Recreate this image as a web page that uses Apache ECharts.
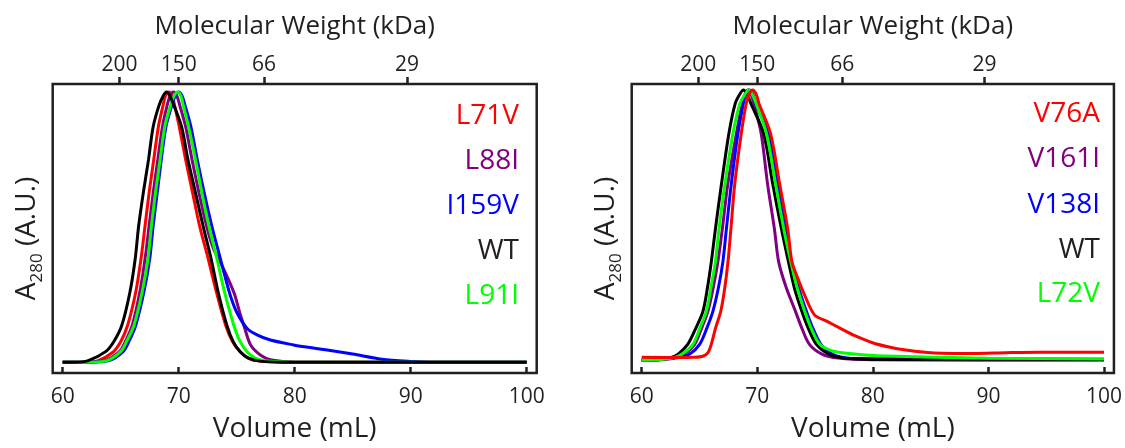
<!DOCTYPE html>
<html>
<head>
<meta charset="utf-8">
<script src="https://cdn.jsdelivr.net/npm/echarts@6/dist/echarts.min.js"></script>
<style>
    html, body {margin: 0; padding: 0; background: #fff;}
    #sec_chart {width: 1125px; height: 448px;}
</style>
</head>
<body>
<div id="sec_chart"></div>
<script>
//*************** data: [volume (mL), A280 normalised] ***************
// left panel
var left_L71V = [[60,0],[62,0],[63,0.005],[64.3,0.036],[65.0,0.076],[65.6,0.137],[66.3,0.26],[66.75,0.382],[67.1,0.505],[67.45,0.627],[67.85,0.75],[68.25,0.872],[68.65,0.95],[68.85,0.985],[69.15,1.0],[69.45,0.985],[69.65,0.95],[70.05,0.872],[70.6,0.75],[71.2,0.627],[71.8,0.505],[72.55,0.382],[73.25,0.26],[74.05,0.137],[74.65,0.076],[75.3,0.039],[76.0,0.015],[77,0.004],[79,0],[100,0]];
var left_L88I = [[60,0],[62,0],[63.6,0.006],[64.9,0.039],[65.4,0.076],[66.0,0.137],[66.65,0.26],[67.1,0.382],[67.45,0.505],[67.8,0.627],[68.2,0.75],[68.6,0.872],[69.0,0.95],[69.25,0.985],[69.55,1.0],[69.85,0.985],[70.1,0.95],[70.6,0.872],[71.15,0.75],[71.75,0.627],[72.4,0.505],[73.0,0.42],[73.7,0.36],[74.35,0.3],[74.85,0.247],[75.25,0.185],[75.7,0.125],[76.2,0.064],[77.1,0.025],[78,0.008],[80,0],[100,0]];
var left_I159V = [[60,0],[62,0],[64.0,0.006],[65.2,0.039],[65.7,0.076],[66.3,0.137],[67.0,0.26],[67.5,0.382],[67.8,0.505],[68.15,0.627],[68.5,0.75],[68.9,0.872],[69.4,0.95],[69.7,0.985],[70.0,1.0],[70.3,0.985],[70.55,0.95],[71.05,0.872],[71.6,0.75],[72.2,0.627],[72.85,0.505],[73.6,0.382],[74.1,0.3],[74.45,0.247],[75.0,0.185],[75.9,0.125],[76.8,0.1],[77.9,0.082],[79.9,0.064],[81.2,0.055],[82.8,0.045],[85.0,0.03],[87.5,0.011],[90,0.003],[92,0],[100,0]];
var left_WT = [[60,0],[61,0],[62.2,0.006],[63.7,0.039],[64.4,0.076],[65.1,0.137],[65.8,0.26],[66.25,0.382],[66.55,0.505],[66.95,0.627],[67.4,0.75],[67.8,0.872],[68.3,0.95],[68.65,0.985],[68.95,1.0],[69.25,0.985],[69.6,0.95],[70.25,0.872],[70.8,0.75],[71.45,0.627],[72.1,0.505],[72.8,0.382],[73.4,0.26],[74.15,0.137],[74.7,0.076],[75.3,0.039],[76.0,0.015],[77.0,0.004],[79,0],[100,0]];
var left_L91I = [[60,0],[62,0],[63.8,0.006],[65.0,0.039],[65.5,0.076],[66.15,0.137],[66.85,0.26],[67.35,0.382],[67.65,0.505],[68.0,0.627],[68.4,0.75],[68.8,0.872],[69.3,0.95],[69.6,0.985],[69.9,1.0],[70.2,0.985],[70.4,0.95],[70.85,0.872],[71.45,0.75],[72.0,0.627],[72.6,0.505],[73.3,0.382],[73.95,0.26],[74.75,0.137],[75.3,0.076],[75.9,0.039],[76.6,0.015],[77.6,0.004],[80,0],[100,0]];

// right panel
var right_V76A = [[60,0.011],[63,0.01],[64.5,0.011],[65.3,0.015],[65.74,0.028],[66.03,0.06],[66.4,0.12],[66.85,0.182],[67.2,0.27],[67.47,0.365],[67.72,0.485],[68.05,0.65],[68.62,0.839],[69.05,0.95],[69.3,0.985],[69.6,1.0],[69.9,0.985],[70.15,0.95],[71.15,0.839],[71.95,0.65],[72.64,0.485],[73.0,0.365],[73.5,0.304],[74.08,0.243],[74.95,0.168],[76.0,0.145],[77.2,0.118],[78.5,0.09],[79.9,0.066],[81.5,0.048],[82.84,0.038],[84.5,0.03],[86,0.026],[88.6,0.025],[91.5,0.028],[94.4,0.03],[100,0.03]];
var right_V161I = [[60,0],[61.5,0.002],[62.9,0.01],[63.7,0.023],[64.6,0.06],[65.2,0.12],[65.74,0.182],[66.2,0.27],[66.6,0.365],[66.98,0.485],[67.45,0.65],[68.2,0.839],[68.7,0.95],[68.95,0.985],[69.2,1.0],[69.45,0.985],[69.7,0.95],[70.34,0.839],[70.9,0.65],[71.49,0.485],[71.85,0.365],[72.5,0.27],[73.3,0.182],[73.85,0.12],[74.5,0.06],[75.6,0.023],[77,0.008],[80,0.002],[100,0.001]];
var right_V138I = [[60,0],[61.5,0.002],[63.2,0.01],[64.16,0.023],[65.03,0.06],[65.65,0.12],[66.17,0.182],[66.65,0.27],[67.03,0.365],[67.33,0.485],[67.75,0.65],[68.33,0.839],[68.8,0.95],[69.0,0.985],[69.3,1.0],[69.6,0.985],[69.85,0.95],[70.95,0.839],[71.8,0.65],[72.5,0.485],[72.95,0.365],[73.55,0.27],[74.25,0.182],[74.8,0.12],[75.5,0.06],[76.5,0.023],[78,0.008],[100,0.004]];
var right_WT = [[60,0],[61.5,0.002],[62.5,0.01],[63.16,0.023],[64.0,0.06],[64.7,0.12],[65.31,0.182],[65.7,0.27],[66.03,0.365],[66.38,0.485],[66.9,0.65],[67.55,0.839],[68.1,0.95],[68.5,0.985],[68.8,1.0],[69.1,0.985],[69.45,0.95],[70.55,0.839],[71.35,0.65],[72.1,0.485],[72.7,0.365],[73.2,0.27],[73.85,0.182],[74.4,0.12],[75.1,0.06],[76.2,0.023],[77.5,0.008],[80,0.003],[100,0.002]];
var right_L72V = [[60,0],[61.5,0.002],[62.8,0.01],[63.5,0.023],[64.45,0.06],[65.05,0.12],[65.6,0.182],[66.0,0.27],[66.38,0.365],[66.69,0.485],[67.2,0.65],[67.9,0.839],[68.5,0.95],[68.95,0.985],[69.25,1.0],[69.55,0.985],[69.9,0.95],[70.8,0.839],[71.6,0.65],[72.3,0.485],[72.9,0.365],[73.45,0.27],[74.1,0.182],[74.65,0.12],[75.4,0.06],[76.5,0.035],[78,0.025],[80,0.018],[85.7,0.011],[90,0.008],[100,0.005]];

// axis ticks
var volume_ticks = [60, 70, 80, 90, 100];
var mw_volume = [64.9, 70.0, 77.35, 89.67];
var mw_label = ['200', '150', '66', '29'];

var left_names = ['L71V', 'L88I', 'I159V', 'WT', 'L91I'];
var right_names = ['V76A', 'V161I', 'V138I', 'WT', 'L72V'];
var colors = ['#ff0000', '#800080', '#0000ff', '#000000', '#00ff00'];
var label_colors = ['#ff0000', '#800080', '#0000ff', '#231f20', '#00ff00'];

//*************** chart ***************
var sec_dom = document.getElementById("sec_chart");
var sec_chart = echarts.init(sec_dom);

var FONT = 'Open Sans';
var TXT = '#231f20';

function mw_formatter(v) {
    for (var i = 0; i < mw_volume.length; i++) {
        if (Math.abs(mw_volume[i] - v) < 0.01) return mw_label[i];
    }
    return '';
}

function bottom_axis(grid) {
    return {
        type: 'value', gridIndex: grid, position: 'bottom',
        min: 59.14, max: 100.86,
        axisLine: {show: false, onZero: false},
        axisTick: {show: true, inside: true, length: 6, customValues: volume_ticks,
            lineStyle: {color: TXT, width: 2.5}},
        axisLabel: {customValues: volume_ticks, margin: 14, fontSize: 21, color: TXT, fontFamily: FONT},
        splitLine: {show: false},
        name: 'Volume (mL)', nameLocation: 'middle', nameGap: 42,
        nameTextStyle: {fontSize: 28, color: TXT, fontFamily: FONT}
    };
}

function top_axis(grid) {
    return {
        type: 'value', gridIndex: grid, position: 'top',
        min: 59.14, max: 100.86,
        axisLine: {show: false, onZero: false},
        axisTick: {show: true, inside: false, length: 7, customValues: mw_volume,
            lineStyle: {color: TXT, width: 2.5}},
        axisLabel: {customValues: mw_volume, formatter: mw_formatter, margin: 8,
            fontSize: 21, color: TXT, fontFamily: FONT},
        splitLine: {show: false},
        name: 'Molecular Weight (kDa)', nameLocation: 'middle', nameGap: 44,
        nameTextStyle: {fontSize: 26, color: TXT, fontFamily: FONT}
    };
}

function y_axis(grid, min, max) {
    return {
        type: 'value', gridIndex: grid, min: min, max: max,
        axisLine: {show: false, onZero: false}, axisTick: {show: false}, axisLabel: {show: false},
        splitLine: {show: false},
        name: '{m|A}{sub|280}{m| (A.U.)}', nameLocation: 'middle', nameGap: 7,
        nameTextStyle: {
            padding: [0, 20, 0, 0],
            rich: {
                m: {fontSize: 28, color: TXT, fontFamily: FONT, verticalAlign: 'top', padding: [0, 0, 5, 0]},
                sub: {fontSize: 17, color: TXT, fontFamily: FONT, verticalAlign: 'bottom'}
            }
        }
    };
}

function make_series(name, data, xi, yi, ci) {
    return {
        name: name, type: 'line', xAxisIndex: xi, yAxisIndex: yi,
        data: data, smooth: 0.3, showSymbol: false,
        lineStyle: {color: colors[ci], width: 3}, itemStyle: {color: colors[ci]},
        animation: false
    };
}

var left_tops = [102.5, 147.5, 192.5, 237.5, 282.5];
var right_tops = [100, 145, 191, 236, 280];
var legends = [];
for (var i = 0; i < 5; i++) {
    legends.push({data: [left_names[i]], right: 601, top: left_tops[i], icon: 'none', itemWidth: 0,
        align: 'right', padding: 0, selectedMode: false,
        textStyle: {fontSize: 28, color: label_colors[i], fontFamily: FONT}});
    legends.push({data: [right_names[i]], right: 20, top: right_tops[i], icon: 'none', itemWidth: 0,
        align: 'right', padding: 0, selectedMode: false,
        textStyle: {fontSize: 28, color: label_colors[i], fontFamily: FONT}});
}

sec_chart.setOption({
    backgroundColor: '#fff',
    animation: false,
    textStyle: {fontFamily: FONT},
    legend: legends,
    grid: [
        {left: 52.7, right: 588.3, top: 84, bottom: 73, show: true, borderColor: TXT, borderWidth: 2.5},
        {left: 631.7, right: 9, top: 84, bottom: 72, show: true, borderColor: TXT, borderWidth: 2.5}
    ],
    xAxis: [bottom_axis(0), top_axis(0), bottom_axis(1), top_axis(1)],
    yAxis: [y_axis(0, -0.04, 1.03), y_axis(1, -0.047, 1.022)],
    series: [
        make_series('L71V', left_L71V, 0, 0, 0),
        make_series('L88I', left_L88I, 0, 0, 1),
        make_series('I159V', left_I159V, 0, 0, 2),
        make_series('L91I', left_L91I, 0, 0, 4),
        make_series('WT', left_WT, 0, 0, 3),
        make_series('V161I', right_V161I, 2, 1, 1),
        make_series('V138I', right_V138I, 2, 1, 2),
        make_series('WT', right_WT, 2, 1, 3),
        make_series('L72V', right_L72V, 2, 1, 4),
        make_series('V76A', right_V76A, 2, 1, 0)
    ]
});

window.addEventListener('resize', function () { sec_chart.resize(); });
</script>
</body>
</html>
